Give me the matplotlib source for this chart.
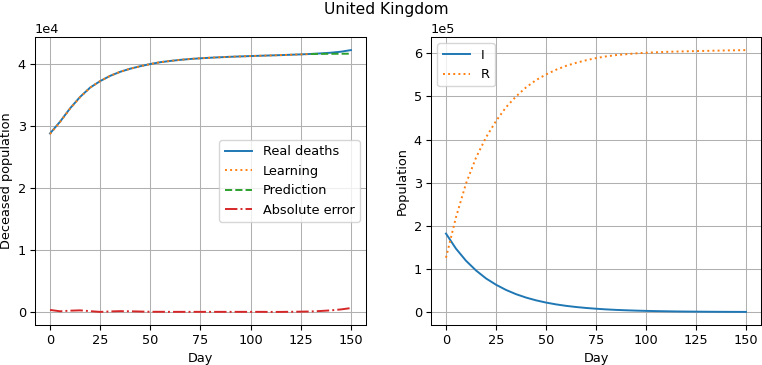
#!/usr/bin/env python

import matplotlib
matplotlib.use('Agg')
import matplotlib.pyplot as plt


# day index, sampled every 5 days
days = [0, 5, 10, 15, 20, 25, 30, 35, 40, 45, 50, 55, 60, 65, 70, 75,
        80, 85, 90, 95, 100, 105, 110, 115, 120, 125, 130, 135, 140, 145, 150]

# left panel: deceased population
realDeaths = [28800, 30700, 32850, 34700, 36200, 37250, 38100, 38750, 39250,
              39650, 40000, 40300, 40500, 40680, 40820, 40930, 41020, 41100,
              41170, 41230, 41290, 41340, 41390, 41440, 41500, 41560, 41630,
              41720, 41830, 41990, 42250]
learningDays = [0, 5, 10, 15, 20, 25, 30, 35, 40, 45, 50, 55, 60, 65, 70, 75,
                80, 85, 90, 95, 100, 105, 110, 115, 120, 125, 130]
learning = [28700, 30650, 32800, 34650, 36200, 37250, 38100, 38750, 39250,
            39650, 40000, 40300, 40500, 40680, 40820, 40930, 41020, 41100,
            41170, 41230, 41290, 41340, 41390, 41440, 41500, 41560, 41620]
predictionDays = [130, 135, 140, 145, 150]
prediction = [41620, 41640, 41650, 41660, 41670]
absError = [320, 100, 200, 250, 120, 0, 80, 120, 100, 60, 20, 20, 10, 10, 10,
            10, 10, 10, 10, 10, 10, 10, 0, 0, 20, 40, 70, 150, 250, 400, 620]

# right panel: infected / removed
infected = [182000, 147000, 119000, 96500, 78000, 63400, 51300, 41500, 33600,
            27200, 22000, 17800, 14400, 11700, 9500, 7700, 6200, 5000, 4100,
            3300, 2700, 2200, 1800, 1400, 1150, 950, 750, 600, 500, 400, 330]
removed = [126000, 220000, 298000, 358000, 405000, 443000, 475000, 500000,
           521000, 538000, 551000, 562000, 571000, 578000, 584000, 589000,
           593000, 596000, 598000, 600000, 601500, 602500, 603500, 604200,
           604800, 605300, 605800, 606300, 606800, 607200, 607600]


def main():

    # picture was scaled down a little, so shrink everything alike
    scale = 0.93
    plt.rcParams['font.size'] = 10 * scale
    plt.rcParams['lines.linewidth'] = 1.5 * scale
    plt.rcParams['xtick.major.size'] = 3.5 * scale
    plt.rcParams['ytick.major.size'] = 3.5 * scale
    plt.rcParams['xtick.major.pad'] = 3.5 * scale
    plt.rcParams['ytick.major.pad'] = 3.5 * scale
    plt.rcParams['axes.labelpad'] = 4.0 * scale
    plt.rcParams['axes.linewidth'] = 0.8 * scale
    plt.rcParams['grid.linewidth'] = 0.8 * scale
    plt.rcParams['legend.handlelength'] = 2.15

    fig = plt.figure(figsize=(7.62, 3.65), dpi=100)
    fig.suptitle('United Kingdom', fontsize=12 * scale, x=0.507, y=0.995)

    ax1 = fig.add_axes([0.0459, 0.1096, 0.4344, 0.789])
    ax1.plot(days, realDeaths, '-', color='C0', label='Real deaths')
    ax1.plot(learningDays, learning, ':', color='C1', label='Learning')
    ax1.plot(predictionDays, prediction, '--', color='C2', label='Prediction')
    ax1.plot(days, absError, '-.', color='C3', label='Absolute error')
    ax1.ticklabel_format(axis='y', style='sci', scilimits=(0, 0))
    ax1.set_xlabel('Day')
    ax1.set_ylabel('Deceased population')
    ax1.grid(True)
    ax1.legend(loc='center right')

    ax2 = fig.add_axes([0.5656, 0.1096, 0.4331, 0.789])
    ax2.plot(days, infected, '-', color='C0', label='I')
    ax2.plot(days, removed, ':', color='C1', label='R')
    ax2.ticklabel_format(axis='y', style='sci', scilimits=(0, 0))
    ax2.set_xlabel('Day')
    ax2.set_ylabel('Population')
    ax2.grid(True)
    ax2.legend(loc='upper left')

    fig.savefig('out.png', dpi=100)

# END main()


if __name__ == '__main__':
    main()
